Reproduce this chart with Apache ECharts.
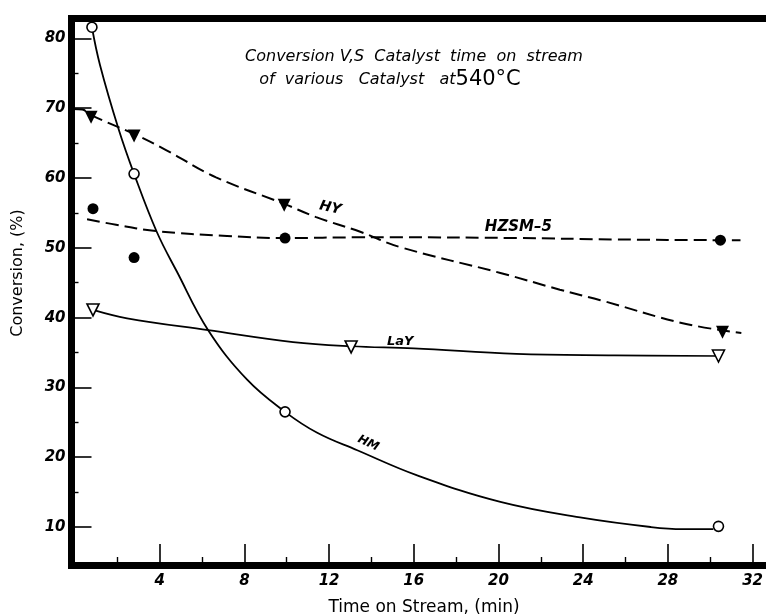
<!DOCTYPE html>
<html>
<head>
<meta charset="utf-8">
<script src="https://cdn.jsdelivr.net/npm/echarts@6/dist/echarts.min.js"></script>
<style>html,body{margin:0;padding:0;background:#fff}#c{width:766px;height:616px}</style>
</head>
<body>
<div id="c"></div>
<script>
// ---- tick values ----
const xMajorTicks = [4, 8, 12, 16, 20, 24, 28, 32];
const xMinorTicks = [2, 6, 10, 14, 18, 22, 26, 30];
const yMajorTicks = [10, 20, 30, 40, 50, 60, 70, 80];
const yMinorTicks = [15, 25, 35, 45, 55, 65, 75];

// ---- measured points (markers) ----
const hmTime   = [0.80, 2.79, 9.92, 30.39];
const hmConv   = [81.6, 60.6, 26.5, 10.1];
const hyTime   = [0.76, 2.79, 9.88, 30.58];
const hyConv   = [68.7, 66.0, 56.1, 37.9];
const hzsmTime = [0.85, 2.79, 9.92, 30.48];
const hzsmConv = [55.6, 48.6, 51.4, 51.1];
const layTime  = [0.85, 13.04, 30.39];
const layConv  = [41.1, 35.8, 34.5];

// ---- hand-drawn fitted curves ----
const hmFitTime = [0.80, 1.18, 2.05, 2.79, 3.86, 4.81, 6.29, 8.13, 9.92, 11.44, 13.33, 16.16, 20.09, 24.0, 27.2, 28.7, 30.15];
const hmFitConv = [81.6, 76.2, 67.1, 60.6, 52.3, 46.6, 38.2, 31.1, 26.5, 23.5, 21.0, 17.4, 13.6, 11.3, 10.0, 9.7, 9.7];
const hyFitTime = [-0.1, 0.35, 0.76, 2.79, 4.30, 6.66, 9.88, 11.39, 13.47, 15.36, 20.09, 22.9, 24.81, 28.7, 31.47];
const hyFitConv = [69.9, 69.8, 69.0, 66.3, 64.0, 60.1, 56.3, 54.4, 52.3, 50.1, 46.4, 44.0, 42.5, 39.2, 37.8];
const hzsmFitTime = [0.57, 1.94, 3.83, 7.18, 9.92, 13.47, 15.36, 20.84, 25.5, 30.48, 31.43];
const hzsmFitConv = [54.1, 53.3, 52.4, 51.7, 51.4, 51.5, 51.5, 51.4, 51.2, 51.1, 51.1];
const layFitTime = [0.85, 2.46, 6.29, 10.3, 13.04, 16.0, 20.84, 25.5, 30.39];
const layFitConv = [41.1, 39.9, 38.2, 36.5, 35.9, 35.6, 34.8, 34.6, 34.5];

// ---- curve labels ----
const curveNames = ['HM', 'HY', 'HZSM\u20135', 'LaY'];
const labelTime  = [13.85, 12.05, 20.94, 15.36];
const labelConv  = [22.0, 55.7, 53.0, 36.5];

const zip = (a, b) => a.map((v, i) => [v, b[i]]);
const X_MIN = -0.165, X_MAX = 32.6, Y_MIN = 4.56, Y_MAX = 82.85;
const FONT = 'DejaVu Sans';
const tickFont = { fontFamily: FONT, fontStyle: 'italic', fontWeight: 'bold', fontSize: 15, color: '#000' };

function lbl(i, rot, size) {
  return {
    coord: [labelTime[i], labelConv[i]], value: curveNames[i],
    symbol: 'circle', symbolSize: 0,
    label: { show: true, position: 'inside', formatter: curveNames[i], rotate: rot,
      fontFamily: FONT, fontStyle: 'italic', fontWeight: 'bold', fontSize: size, color: '#000' }
  };
}

const chart = echarts.init(document.getElementById('c'));
const lineBase = { type: 'line', showSymbol: false, smooth: 0.4, silent: true, z: 2 };
chart.setOption({
  animation: false,
  backgroundColor: '#fff',
  grid: { left: 71.5, right: 0, top: 18.5, bottom: 51 },
  xAxis: [
    { type: 'value', min: X_MIN, max: X_MAX, position: 'bottom',
      axisLine: { show: true, onZero: false, lineStyle: { color: '#000', width: 7, cap: 'square' } },
      axisTick: { show: true, inside: true, length: 21, customValues: xMajorTicks, lineStyle: { color: '#000', width: 1.6 } },
      axisLabel: Object.assign({ margin: 9, customValues: xMajorTicks }, tickFont),
      splitLine: { show: false } },
    { type: 'value', min: X_MIN, max: X_MAX, position: 'bottom', offset: 0,
      axisLine: { show: false, onZero: false },
      axisTick: { show: true, inside: true, length: 8, customValues: xMinorTicks, lineStyle: { color: '#000', width: 1.4 } },
      axisLabel: { show: false }, splitLine: { show: false } },
    { type: 'value', min: X_MIN, max: X_MAX, position: 'top', offset: 0,
      axisLine: { show: true, onZero: false, lineStyle: { color: '#000', width: 7, cap: 'square' } },
      axisTick: { show: false }, axisLabel: { show: false }, splitLine: { show: false } }
  ],
  yAxis: [
    { type: 'value', min: Y_MIN, max: Y_MAX, position: 'left',
      axisLine: { show: true, onZero: false, lineStyle: { color: '#000', width: 7, cap: 'square' } },
      axisTick: { show: true, inside: true, length: 20, customValues: yMajorTicks, lineStyle: { color: '#000', width: 1.6 } },
      axisLabel: Object.assign({ margin: 6, customValues: yMajorTicks }, tickFont),
      splitLine: { show: false } },
    { type: 'value', min: Y_MIN, max: Y_MAX, position: 'left', offset: 0,
      axisLine: { show: false, onZero: false },
      axisTick: { show: true, inside: true, length: 7, customValues: yMinorTicks, lineStyle: { color: '#000', width: 1.4 } },
      axisLabel: { show: false }, splitLine: { show: false } }
  ],
  graphic: [
    { type: 'text', x: 414, y: 57, style: { text: 'Conversion V,S  Catalyst  time  on  stream', fill: '#000',
      font: 'italic 16px "DejaVu Sans"', textAlign: 'center', textVerticalAlign: 'middle' } },
    { type: 'text', x: 390, y: 80, style: { text: '{a|of  various   Catalyst   at}{b|540°C}', fill: '#000',
      textAlign: 'center', textVerticalAlign: 'middle',
      rich: { a: { fontFamily: FONT, fontStyle: 'italic', fontSize: 16, color: '#000' },
              b: { fontFamily: FONT, fontSize: 21, color: '#000' } } } },
    { type: 'text', x: 18, y: 273, rotation: Math.PI / 2, style: { text: 'Conversion, (%)', fill: '#000',
      font: '16px "DejaVu Sans"', textAlign: 'center', textVerticalAlign: 'middle' } },
    { type: 'text', x: 424, y: 608, style: { text: 'Time on Stream, (min)', fill: '#000',
      font: '17px "DejaVu Sans"', textAlign: 'center', textVerticalAlign: 'middle' } }
  ],
  series: [
    Object.assign({}, lineBase, { name: 'HM fit', data: zip(hmFitTime, hmFitConv),
      lineStyle: { color: '#000', width: 1.8 },
      markPoint: { silent: true, data: [lbl(0, -25, 12)] } }),
    Object.assign({}, lineBase, { name: 'HY fit', data: zip(hyFitTime, hyFitConv),
      lineStyle: { color: '#000', width: 2, type: [13, 6] },
      markPoint: { silent: true, data: [lbl(1, -12, 14)] } }),
    Object.assign({}, lineBase, { name: 'HZSM-5 fit', data: zip(hzsmFitTime, hzsmFitConv),
      lineStyle: { color: '#000', width: 2, type: [13, 6] },
      markPoint: { silent: true, data: [lbl(2, 0, 15)] } }),
    Object.assign({}, lineBase, { name: 'LaY fit', data: zip(layFitTime, layFitConv),
      lineStyle: { color: '#000', width: 1.7 },
      markPoint: { silent: true, data: [lbl(3, 0, 13)] } }),
    { type: 'scatter', name: 'HM', data: zip(hmTime, hmConv), symbol: 'circle', symbolSize: 10, z: 5,
      itemStyle: { color: '#fff', borderColor: '#000', borderWidth: 1.6, opacity: 1 } },
    { type: 'scatter', name: 'HY', data: zip(hyTime, hyConv), symbol: 'triangle', symbolRotate: 180, symbolSize: 13, z: 5,
      itemStyle: { color: '#000', opacity: 1 } },
    { type: 'scatter', name: 'HZSM-5', data: zip(hzsmTime, hzsmConv), symbol: 'circle', symbolSize: 11, z: 5,
      itemStyle: { color: '#000', opacity: 1 } },
    { type: 'scatter', name: 'LaY', data: zip(layTime, layConv), symbol: 'triangle', symbolRotate: 180, symbolSize: 12, z: 5,
      itemStyle: { color: '#fff', borderColor: '#000', borderWidth: 1.6, opacity: 1 } }
  ]
});
</script>
</body>
</html>
